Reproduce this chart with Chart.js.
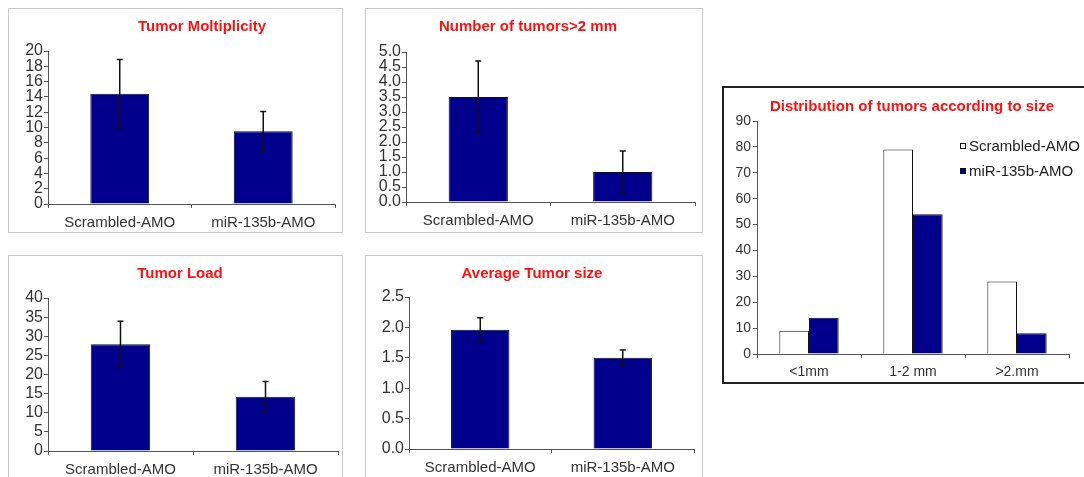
<!DOCTYPE html>
<html>
<head>
<meta charset="utf-8">
<script src="https://cdn.jsdelivr.net/npm/chart.js@4/dist/chart.umd.min.js"></script>
<style>
  body { margin: 0; width: 1084px; height: 477px; overflow: hidden; background: #fff; position: relative; }
  .panel { position: absolute; border: 1px solid #c8c8c8; box-sizing: border-box; }
  .panel canvas { position: absolute; left: 0; top: 0; }
  #p5 { border: 2px solid #222; }
</style>
</head>
<body>
<div class="panel" id="p1" style="left:8px;top:8px;width:335px;height:225px"><canvas id="c1"></canvas></div>
<div class="panel" id="p2" style="left:365px;top:8px;width:338px;height:225px"><canvas id="c2"></canvas></div>
<div class="panel" id="p3" style="left:8px;top:255px;width:335px;height:230px"><canvas id="c3"></canvas></div>
<div class="panel" id="p4" style="left:365px;top:255px;width:338px;height:230px"><canvas id="c4"></canvas></div>
<div class="panel" id="p5" style="left:722px;top:86px;width:372px;height:298px"><canvas id="c5"></canvas></div>
<script>
// data
const groups = ['Scrambled-AMO', 'miR-135b-AMO'];

const multiplicity = [14.4, 9.5];
const multiplicityErr = [4.5, 2.6];

const bigTumors = [3.5, 1.0];
const bigTumorsErr = [1.2, 0.7];

const tumorLoad = [27.9, 14.2];
const tumorLoadErr = [6.0, 4.0];

const avgSize = [1.96, 1.5];
const avgSizeErr = [0.2, 0.13];

const sizeBins = ['<1mm', '1-2 mm', '>2.mm'];
const scrambledDist = [9, 79, 28];
const mirDist = [14, 54, 8];

const NAVY = '#00008c';
Chart.defaults.font.family = '"Liberation Sans", Arial, sans-serif';
Chart.defaults.color = '#222';

// error bars from dataset.errors
const errorBars = {
  id: 'errorBars',
  afterDatasetsDraw(chart) {
    const ctx = chart.ctx;
    const y = chart.scales.y;
    chart.data.datasets.forEach((ds, di) => {
      if (!ds.errors) return;
      chart.getDatasetMeta(di).data.forEach((bar, i) => {
        const v = ds.data[i], e = ds.errors[i];
        const top = y.getPixelForValue(v + e);
        const bot = y.getPixelForValue(v - e);
        ctx.save();
        ctx.strokeStyle = '#111';
        ctx.lineWidth = 1.5;
        ctx.beginPath();
        ctx.moveTo(bar.x, top); ctx.lineTo(bar.x, bot);
        ctx.moveTo(bar.x - 3, top); ctx.lineTo(bar.x + 3, top);
        ctx.moveTo(bar.x - 3, bot); ctx.lineTo(bar.x + 3, bot);
        ctx.stroke();
        ctx.restore();
      });
    });
  }
};

// red title placed where the original has it
const panelTitle = {
  id: 'panelTitle',
  afterDraw(chart, args, opts) {
    if (!opts.text) return;
    const ctx = chart.ctx;
    ctx.save();
    ctx.font = 'bold ' + opts.size + 'px "Liberation Sans", Arial, sans-serif';
    ctx.fillStyle = '#ff1010';
    ctx.textAlign = 'center';
    ctx.textBaseline = 'middle';
    ctx.fillText(opts.text, opts.x, opts.y);
    ctx.restore();
  }
};

// small legend inside the plot of the last panel
const boxLegend = {
  id: 'boxLegend',
  afterDraw(chart, args, opts) {
    if (!opts.show) return;
    const ctx = chart.ctx;
    ctx.save();
    ctx.font = '15px "Liberation Sans", Arial, sans-serif';
    ctx.textBaseline = 'middle';
    chart.data.datasets.forEach((ds, i) => {
      const yy = opts.y + i * opts.gap;
      ctx.fillStyle = ds.backgroundColor;
      ctx.strokeStyle = '#111';
      ctx.lineWidth = 1;
      ctx.fillRect(opts.x, yy - 3, 6, 6);
      ctx.strokeRect(opts.x + 0.5, yy - 2.5, 5, 5);
      ctx.fillStyle = '#222';
      ctx.fillText(ds.label, opts.x + 9, yy + 1);
    });
    ctx.restore();
  }
};

function setup(id, w, h) {
  const c = document.getElementById(id);
  c.width = w; c.height = h;
  c.style.width = w + 'px'; c.style.height = h + 'px';
  return c;
}

function smallChart(id, w, h, title, tx, values, errs, yMax, step, decimals, area) {
  setup(id, w, h);
  return new Chart(document.getElementById(id), {
    type: 'bar',
    data: {
      labels: groups,
      datasets: [{
        data: values,
        errors: errs,
        backgroundColor: NAVY,
        borderColor: '#111',
        borderWidth: 1,
        categoryPercentage: 1,
        barPercentage: 0.41
      }]
    },
    options: {
      responsive: false,
      animation: false,
      layout: { padding: { left: 0, top: area.top, right: area.right, bottom: 0 } },
      plugins: {
        legend: { display: false },
        tooltip: { enabled: false },
        panelTitle: { text: title, x: tx, y: 18, size: 15 }
      },
      scales: {
        x: {
          grid: { offset: true, drawOnChartArea: false, drawTicks: true, tickLength: 4, color: '#555' },
          border: { color: '#555', width: 1 },
          ticks: { font: { size: 15 }, padding: 6, color: '#333' },
          afterFit(s) { s.height = area.xh; }
        },
        y: {
          min: 0, max: yMax,
          grid: { drawOnChartArea: false, drawTicks: true, tickLength: 4, color: '#555' },
          border: { color: '#555', width: 1 },
          ticks: {
            stepSize: step, autoSkip: false, font: { size: 16 }, padding: 1, color: '#333',
            callback: v => v.toFixed(decimals)
          },
          afterFit(s) { s.width = area.left; }
        }
      }
    },
    plugins: [errorBars, panelTitle]
  });
}

smallChart('c1', 333, 223, 'Tumor Moltiplicity', 193, multiplicity, multiplicityErr, 20, 2, 0,
  { top: 42, right: 7, xh: 28, left: 39 });
smallChart('c2', 336, 223, 'Number of tumors>2 mm', 162, bigTumors, bigTumorsErr, 5, 0.5, 1,
  { top: 43, right: 7, xh: 30, left: 40 });
smallChart('c3', 333, 228, 'Tumor Load', 171, tumorLoad, tumorLoadErr, 40, 5, 0,
  { top: 42, right: 4, xh: 33, left: 39 });
smallChart('c4', 336, 228, 'Average Tumor size', 166, avgSize, avgSizeErr, 2.5, 0.5, 1,
  { top: 41, right: 8, xh: 35, left: 43 });

setup('c5', 368, 294);
new Chart(document.getElementById('c5'), {
  type: 'bar',
  data: {
    labels: sizeBins,
    datasets: [
      { label: 'Scrambled-AMO', data: scrambledDist, backgroundColor: '#ffffff', borderColor: '#111', borderWidth: 1,
        categoryPercentage: 0.57, barPercentage: 1 },
      { label: 'miR-135b-AMO', data: mirDist, backgroundColor: NAVY, borderColor: '#111', borderWidth: 1,
        categoryPercentage: 0.57, barPercentage: 1 }
    ]
  },
  options: {
    responsive: false,
    animation: false,
    layout: { padding: { left: 0, top: 33, right: 23, bottom: 0 } },
    plugins: {
      legend: { display: false },
      tooltip: { enabled: false },
      panelTitle: { text: 'Distribution of tumors according to size', x: 188, y: 19, size: 15 },
      boxLegend: { show: true, x: 236, y: 58, gap: 25 }
    },
    scales: {
      x: {
        grid: { offset: true, drawOnChartArea: false, drawTicks: true, tickLength: 4, color: '#555' },
        border: { color: '#555', width: 1 },
        ticks: { font: { size: 14 }, padding: 6, color: '#333' },
        afterFit(s) { s.height = 28; }
      },
      y: {
        min: 0, max: 90,
        grid: { drawOnChartArea: false, drawTicks: true, tickLength: 4, color: '#555' },
        border: { color: '#555', width: 1 },
        ticks: { stepSize: 10, autoSkip: false, font: { size: 14 }, padding: 2, color: '#333' },
        afterFit(s) { s.width = 33; }
      }
    }
  },
  plugins: [panelTitle, boxLegend]
});
</script>
</body>
</html>
